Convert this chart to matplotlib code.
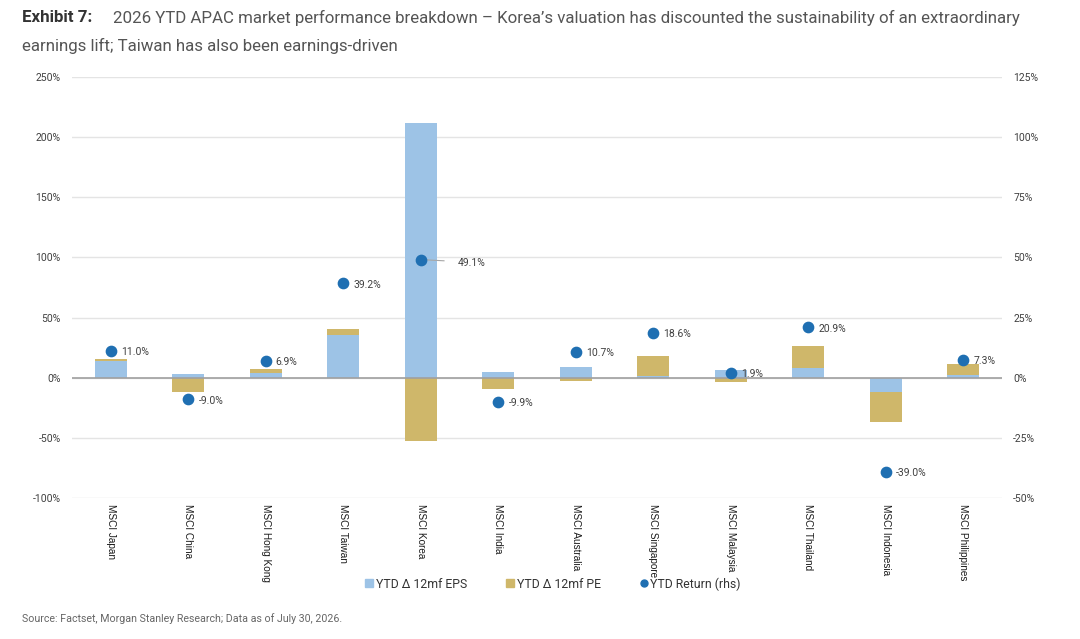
import matplotlib.pyplot as plt
import numpy as np
from matplotlib.ticker import FuncFormatter
from matplotlib.lines import Line2D

plt.rcParams['font.family'] = ['Roboto', 'DejaVu Sans']

# data
markets = ['MSCI Japan', 'MSCI China', 'MSCI Hong Kong', 'MSCI Taiwan', 'MSCI Korea',
           'MSCI India', 'MSCI Australia', 'MSCI Singapore', 'MSCI Malaysia',
           'MSCI Thailand', 'MSCI Indonesia', 'MSCI Philippines']
eps_chg = [14.1, 3.3, 3.9, 35.1, 212.0, 5.0, 9.1, 1.1, 6.1, 8.3, -11.9, 2.5]
pe_chg = [1.5, -12.2, 3.3, 5.6, -52.3, -9.1, -2.8, 17.2, -3.9, 18.3, -25.2, 8.5]
ytd_ret = [11.0, -9.0, 6.9, 39.2, 49.1, -9.9, 10.7, 18.6, 1.9, 20.9, -39.0, 7.3]

c_eps = '#9DC3E6'
c_pe = '#CFB76A'
c_dot = '#1F6FB2'
c_txt = '#404040'

fig = plt.figure(figsize=(10.8, 6.39), dpi=100)
ax = fig.add_axes([72/1080, 1-498/639, 930/1080, 421/639])
ax2 = ax.twinx()

x = np.arange(len(markets))
eps = np.array(eps_chg)
pe = np.array(pe_chg)
# stack PE on EPS only when same sign (Excel-style stacking)
pe_bottom = np.where(np.sign(eps) == np.sign(pe), eps, 0)

ax.bar(x, eps, width=0.41, color=c_eps, label='YTD \u0394 12mf EPS', zorder=3)
ax.bar(x, pe, width=0.41, bottom=pe_bottom, color=c_pe, label='YTD \u0394 12mf PE', zorder=3)

ax.set_xlim(-0.5, len(markets) - 0.5)
ax.set_ylim(-100, 250)
ax.set_yticks(np.arange(-100, 251, 50))
ax.yaxis.set_major_formatter(FuncFormatter(lambda v, p: f'{v:.0f}%'))
ax.grid(axis='y', color='#E4E4E4', linewidth=1, zorder=0)
ax.axhline(0, color='#A0A0A0', linewidth=1.2, zorder=4)

ax2.set_ylim(-50, 125)
ax2.set_yticks(np.arange(-50, 126, 25))
ax2.yaxis.set_major_formatter(FuncFormatter(lambda v, p: f'{v:.0f}%'))
ax2.scatter(x, ytd_ret, s=55, color=c_dot, zorder=5, label='YTD Return (rhs)')

for i, r in enumerate(ytd_ret):
    if markets[i] == 'MSCI Korea':
        ax2.plot([i, i + 0.3], [r, r - 0.5], color='#A6A6A6', linewidth=0.8, zorder=4)
        ax2.text(i + 0.48, r - 1.5, f'{r:.1f}%', fontsize=7.5, color=c_txt, va='center', zorder=6)
    else:
        ax2.text(i + 0.13, r - 0.5, f'{r:.1f}%', fontsize=7.5, color=c_txt, va='center', zorder=6)

for a in (ax, ax2):
    for s in a.spines.values():
        s.set_visible(False)
    a.tick_params(axis='y', length=0, labelsize=7.5, labelcolor=c_txt, pad=8)

ax.set_xticks(x)
ax.set_xticklabels(markets, rotation=270, fontsize=7.2, color='#1A1A1A',
                   family=['Liberation Sans', 'DejaVu Sans'], va='top', ha='center')
ax.tick_params(axis='x', length=0, pad=4)
ax.set_zorder(ax2.get_zorder() - 1)
ax2.patch.set_visible(False)

labels = ['YTD \u0394 12mf EPS', 'YTD \u0394 12mf PE', 'YTD Return (rhs)']
handles = [Line2D([], [], marker='s', linestyle='', color=c_eps, markersize=6),
           Line2D([], [], marker='s', linestyle='', color=c_pe, markersize=6),
           Line2D([], [], marker='o', linestyle='', color=c_dot, markersize=5)]
fig.legend(handles, labels, loc='center', bbox_to_anchor=(552/1080, 1-584/639), ncol=3,
           frameon=False, fontsize=8.8, handletextpad=0.05, columnspacing=3.0,
           handlelength=1.0, labelcolor='#333333')

fig.text(22/1080, 1-18/639, 'Exhibit 7:', fontsize=12.2, fontweight='bold', color='#333333', va='center')
fig.text(113/1080, 1-18/639,
         '2026 YTD APAC market performance breakdown \u2013 Korea\u2019s valuation has discounted the sustainability of an extraordinary',
         fontsize=12.2, color='#555555', va='center')
fig.text(22/1080, 1-46/639, 'earnings lift; Taiwan has also been earnings-driven',
         fontsize=12.2, color='#555555', va='center')
fig.text(22/1080, 1-619/639, 'Source: Factset, Morgan Stanley Research; Data as of July 30, 2026.',
         fontsize=7.7, color='#666666', va='center')

fig.savefig('out.png', dpi=100)
